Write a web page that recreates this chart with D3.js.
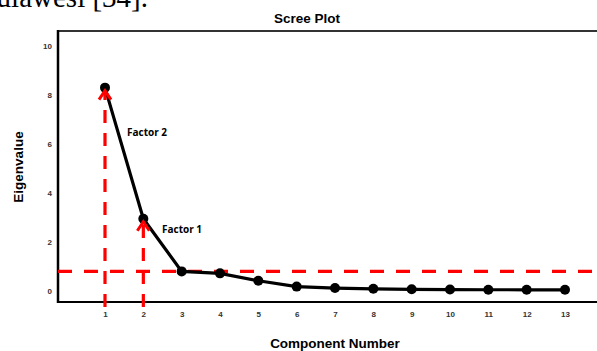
<!DOCTYPE html>
<html><head><meta charset="utf-8">
<script src="https://cdn.jsdelivr.net/npm/d3@7"></script>
<style>html,body{margin:0;padding:0;background:#fff;}svg{display:block;}</style>
</head><body>
<svg id="c" width="597" height="351"></svg>
<script>
const components = [1,2,3,4,5,6,7,8,9,10,11,12,13];
const eigenvalues = [8.3, 2.95, 0.8, 0.72, 0.42, 0.18, 0.12, 0.09, 0.07, 0.06, 0.05, 0.05, 0.05];
const yTicks = [0,2,4,6,8,10];
const cutoff = 0.8;
const factorLabels = ["Factor 2","Factor 1"];
const factorComponents = [1,2];

const svg = d3.select("#c");
const x = d3.scaleLinear().domain([1,13]).range([105,565]);
const y = d3.scaleLinear().domain([0,10]).range([291,46]);
const fLeft = 58, fTop = 31, fBottom = 302, fRight = 597;
const sans = "Liberation Sans, Arial, sans-serif";

// cut-off document text at top
svg.append("text").attr("x",148).attr("y",7).attr("text-anchor","end")
  .attr("font-family","Liberation Serif, serif").attr("font-size",29).attr("fill","#000")
  .text("Sulawesi [34].");

// title
svg.append("text").attr("x",307).attr("y",23).attr("text-anchor","middle")
  .attr("font-family",sans).attr("font-weight","bold")
  .attr("font-size",13.5).text("Scree Plot");

// frame
svg.append("line").attr("x1",fLeft).attr("x2",fRight).attr("y1",fTop).attr("y2",fTop)
  .attr("stroke","#333").attr("stroke-width",2);
svg.append("line").attr("x1",fLeft).attr("x2",fLeft).attr("y1",fTop-1).attr("y2",fBottom+1)
  .attr("stroke","#000").attr("stroke-width",2.5);
svg.append("line").attr("x1",fLeft).attr("x2",fRight).attr("y1",fBottom).attr("y2",fBottom)
  .attr("stroke","#000").attr("stroke-width",2);

// y axis
const ya = svg.append("g").attr("transform",`translate(${fLeft-6},0)`)
  .call(d3.axisLeft(y).tickValues(yTicks).tickSize(0).tickPadding(0));
ya.select(".domain").remove();
ya.selectAll("text").attr("font-family",sans)
  .attr("font-weight","bold").attr("font-size",8).attr("fill","#333");

// x axis
const xa = svg.append("g").attr("transform",`translate(0,${fBottom+9})`)
  .call(d3.axisBottom(x).tickValues(components).tickFormat(d3.format("d")).tickSize(0).tickPadding(0));
xa.select(".domain").remove();
xa.selectAll("text").attr("font-family",sans)
  .attr("font-weight","bold").attr("font-size",8).attr("fill","#333");

// axis titles
svg.append("text").attr("transform","translate(23,167) rotate(-90)").attr("text-anchor","middle")
  .attr("font-family",sans).attr("font-weight","bold")
  .attr("font-size",13.5).text("Eigenvalue");
svg.append("text").attr("x",335).attr("y",347.5).attr("text-anchor","middle")
  .attr("font-family",sans).attr("font-weight","bold")
  .attr("font-size",13.5).text("Component Number");

// red dashed cutoff line
svg.append("line").attr("x1",fLeft).attr("x2",fRight).attr("y1",y(cutoff)).attr("y2",y(cutoff))
  .attr("stroke","#ff0000").attr("stroke-width",3.2).attr("stroke-dasharray","14,12");

// data line + points
svg.append("path").datum(components.map((c,i)=>[c,eigenvalues[i]]))
  .attr("d",d3.line().x(d=>x(d[0])).y(d=>y(d[1])))
  .attr("fill","none").attr("stroke","#000").attr("stroke-width",3.2);
svg.selectAll("circle.pt").data(components).join("circle").attr("class","pt")
  .attr("cx",d=>x(d)).attr("cy",(d,i)=>y(eigenvalues[i])).attr("r",5).attr("fill","#000");

// red dashed vertical arrows
factorComponents.forEach((c,i)=>{
  const xv = x(c), ytip = y(eigenvalues[c-1]) + 3;
  svg.append("line").attr("x1",xv).attr("x2",xv).attr("y1",fBottom+5).attr("y2",ytip+2)
    .attr("stroke","#ff0000").attr("stroke-width",3.2).attr("stroke-dasharray","13,10");
  svg.append("path").attr("d",`M${xv-6},${ytip+9}L${xv},${ytip}L${xv+6},${ytip+9}`)
    .attr("fill","none").attr("stroke","#ff0000").attr("stroke-width",3);
});

// factor labels
svg.append("text").attr("x",127).attr("y",136)
  .attr("font-family","Open Sans, Lato, sans-serif").attr("font-weight","bold")
  .attr("font-size",10).text(factorLabels[0]);
svg.append("text").attr("x",162).attr("y",233)
  .attr("font-family","Open Sans, Lato, sans-serif").attr("font-weight","bold")
  .attr("font-size",10).text(factorLabels[1]);
</script>
</body></html>
